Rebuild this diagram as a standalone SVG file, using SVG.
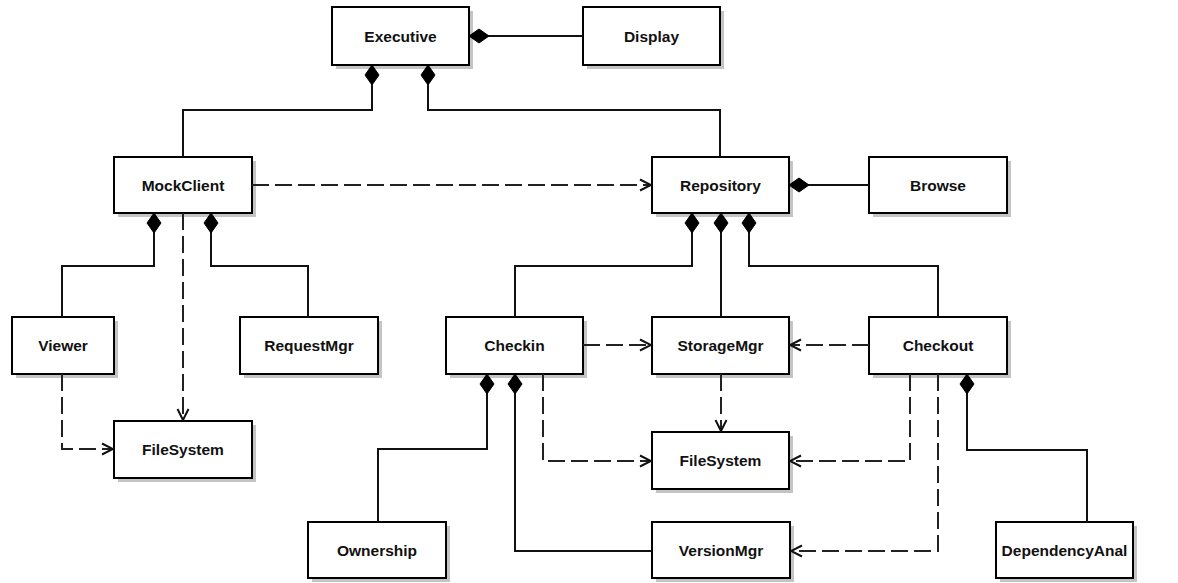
<svg xmlns="http://www.w3.org/2000/svg" width="1178" height="583" viewBox="0 0 1178 583">
<style>
.shadow{fill:#c4c4c4;stroke:none}
.box{fill:#fff;stroke:#000;stroke-width:2}
.lbl{font-family:"Liberation Sans",Arial,sans-serif;font-weight:bold;font-size:15.5px;fill:#111;text-anchor:middle}
.solid{fill:none;stroke:#111;stroke-width:2;marker-start:url(#diamond)}
.dash{fill:none;stroke:#222;stroke-width:2;stroke-dasharray:17,6;marker-end:url(#arrow)}
</style>
<defs>
<marker id="diamond" markerUnits="userSpaceOnUse" markerWidth="24" markerHeight="18" viewBox="-1 -9 24 18" refX="0" refY="0" orient="auto">
<path d="M0,0 L10,-7 L20,0 L10,7 Z" fill="#000" stroke="#000" stroke-width="1"/>
</marker>
<marker id="arrow" markerUnits="userSpaceOnUse" markerWidth="16" markerHeight="16" viewBox="-14 -8 16 16" refX="0" refY="0" orient="auto">
<path d="M-11,-5.5 L0,0 L-11,5.5" fill="none" stroke="#111" stroke-width="2"/>
</marker>
</defs>
<g id="Executive"><rect class="shadow" x="336" y="11" width="137" height="58"/><rect class="box" x="332" y="7" width="137" height="58"/><text class="lbl" x="400.5" y="41.5">Executive</text></g>
<g id="Display"><rect class="shadow" x="587" y="11" width="137" height="58"/><rect class="box" x="583" y="7" width="137" height="58"/><text class="lbl" x="651.5" y="41.5">Display</text></g>
<g id="MockClient"><rect class="shadow" x="118" y="161" width="138" height="56"/><rect class="box" x="114" y="157" width="138" height="56"/><text class="lbl" x="183" y="190.5">MockClient</text></g>
<g id="Repository"><rect class="shadow" x="656" y="161" width="137" height="56"/><rect class="box" x="652" y="157" width="137" height="56"/><text class="lbl" x="720.5" y="190.5">Repository</text></g>
<g id="Browse"><rect class="shadow" x="873" y="161" width="138" height="56"/><rect class="box" x="869" y="157" width="138" height="56"/><text class="lbl" x="938" y="190.5">Browse</text></g>
<g id="Viewer"><rect class="shadow" x="16" y="321" width="102" height="57"/><rect class="box" x="12" y="317" width="102" height="57"/><text class="lbl" x="63" y="351">Viewer</text></g>
<g id="RequestMgr"><rect class="shadow" x="244" y="321" width="138" height="57"/><rect class="box" x="240" y="317" width="138" height="57"/><text class="lbl" x="309" y="351">RequestMgr</text></g>
<g id="Checkin"><rect class="shadow" x="450" y="321" width="137" height="57"/><rect class="box" x="446" y="317" width="137" height="57"/><text class="lbl" x="514.5" y="351">Checkin</text></g>
<g id="StorageMgr"><rect class="shadow" x="656" y="321" width="137" height="57"/><rect class="box" x="652" y="317" width="137" height="57"/><text class="lbl" x="720.5" y="351">StorageMgr</text></g>
<g id="Checkout"><rect class="shadow" x="873" y="321" width="138" height="57"/><rect class="box" x="869" y="317" width="138" height="57"/><text class="lbl" x="938" y="351">Checkout</text></g>
<g id="FileSystem1"><rect class="shadow" x="118" y="425" width="138" height="57"/><rect class="box" x="114" y="421" width="138" height="57"/><text class="lbl" x="183" y="455">FileSystem</text></g>
<g id="FileSystem2"><rect class="shadow" x="656" y="436" width="137" height="57"/><rect class="box" x="652" y="432" width="137" height="57"/><text class="lbl" x="720.5" y="466">FileSystem</text></g>
<g id="Ownership"><rect class="shadow" x="312" y="526" width="138" height="56"/><rect class="box" x="308" y="522" width="138" height="56"/><text class="lbl" x="377" y="555.5">Ownership</text></g>
<g id="VersionMgr"><rect class="shadow" x="656" y="526" width="138" height="56"/><rect class="box" x="652" y="522" width="138" height="56"/><text class="lbl" x="721" y="555.5">VersionMgr</text></g>
<g id="DependencyAnal"><rect class="shadow" x="1000" y="526" width="137" height="56"/><rect class="box" x="996" y="522" width="137" height="56"/><text class="lbl" x="1064.5" y="555.5">DependencyAnal</text></g>
<g id="connectors">
<path class="solid" d="M469,36 H583"/>
<path class="solid" d="M372,65 V110 H183 V157"/>
<path class="solid" d="M428,65 V110 H720 V157"/>
<path class="dash" d="M252,185 H651"/>
<path class="solid" d="M789,185 H869"/>
<path class="solid" d="M154,213 V266 H62 V317"/>
<path class="solid" d="M211,213 V266 H308 V317"/>
<path class="dash" d="M183,213 V420"/>
<path class="dash" d="M62,374 V449 H113"/>
<path class="solid" d="M692,213 V266 H515 V317"/>
<path class="solid" d="M721,213 V317"/>
<path class="solid" d="M749,213 V266 H938 V317"/>
<path class="dash" d="M583,345 H651"/>
<path class="dash" d="M869,345 H790"/>
<path class="dash" d="M721,374 V431"/>
<path class="dash" d="M543,374 V461 H651"/>
<path class="dash" d="M910,374 V461 H790"/>
<path class="dash" d="M938,374 V551 H791"/>
<path class="solid" d="M487,374 V449 H378 V522"/>
<path class="solid" d="M515,374 V551 H652"/>
<path class="solid" d="M967,374 V450 H1087 V522"/>
</g>
</svg>
